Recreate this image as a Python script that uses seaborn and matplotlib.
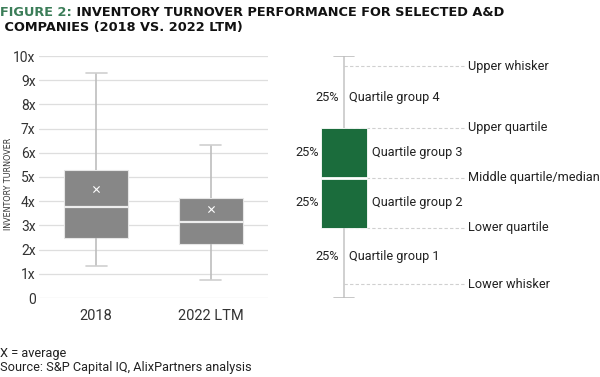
import numpy as np
import pandas as pd
import seaborn as sns
import matplotlib.pyplot as plt

# -------------------------
# Data
# -------------------------
categories = ["2018", "2022 LTM"]
whisker_low = [1.31, 0.74]
lower_quartile = [2.49, 2.25]
median = [3.77, 3.14]
upper_quartile = [5.27, 4.14]
whisker_high = [9.30, 6.33]
average = [4.52, 3.67]

y_ticks = list(range(0, 11))
y_tick_labels = ["0"] + [f"{t}x" for t in range(1, 11)]

# schematic "how to read" box
legend_stats = [0.0, 2.9, 4.97, 7.03, 10.0]
legend_marks = [0.56, 2.9, 4.97, 7.03, 9.57]
legend_mark_labels = ["Lower whisker", "Lower quartile", "Middle quartile/median",
                      "Upper quartile", "Upper whisker"]
legend_groups = ["Quartile group 1", "Quartile group 2",
                 "Quartile group 3", "Quartile group 4"]

GREY_BOX = "#878787"
GREEN = "#1b6c3c"
TITLE_GREEN = "#3b7d58"
TEXT = "#222222"

# five-number rows -> long table for seaborn (whis=(0, 100) makes min/max the whiskers)
rows = []
for i, cat in enumerate(categories):
    for v in [whisker_low[i], lower_quartile[i], median[i], upper_quartile[i], whisker_high[i]]:
        rows.append({"period": cat, "turnover": v})
box_df = pd.DataFrame(rows)
legend_df = pd.DataFrame({"g": ["a"] * 5, "v": legend_stats})

sns.set_theme(style="white")
plt.rcParams["font.family"] = ["Roboto", "DejaVu Sans"]

fig = plt.figure(figsize=(6, 3.77), dpi=100)

# -------------------------
# Left: actual boxes
# -------------------------
ax = fig.add_axes([39 / 600, 79 / 377, 229 / 600, 242 / 377])
sns.boxplot(
    data=box_df, x="period", y="turnover", ax=ax,
    whis=(0, 100), width=0.56, color=GREY_BOX, saturation=1,
    capwidths=0.18,
    boxprops=dict(facecolor=GREY_BOX, edgecolor="#e6e6e6", linewidth=0.8),
    medianprops=dict(color="#eeeeee", linewidth=1.6),
    whiskerprops=dict(color="#bdbdbd", linewidth=1.2),
    capprops=dict(color="#cfcfcf", linewidth=1.2),
    zorder=3,
)
ax.scatter(range(len(average)), average, marker="x", s=20, color="white",
           linewidths=0.8, zorder=5)

ax.set_ylim(0, 10)
ax.set_xlim(-0.5, 1.5)
ax.set_yticks(y_ticks)
ax.set_yticklabels(y_tick_labels)
ax.grid(axis="y", color="#dedede", linewidth=0.9, zorder=0)
ax.set_axisbelow(True)
for s in ax.spines.values():
    s.set_visible(False)
ax.tick_params(axis="y", length=0, pad=2.5, labelsize=10, labelcolor="#333333")
ax.tick_params(axis="x", length=0, pad=8, labelsize=10.5, labelcolor="#333333")
ax.set_xlabel("")
ax.set_ylabel("INVENTORY TURNOVER", fontsize=5.8, family=["DejaVu Sans"],
              color="#333333")
ax.yaxis.set_label_coords(-0.115, 0.47)

# -------------------------
# Right: explanation box
# -------------------------
ax2 = fig.add_axes([300 / 600, 79 / 377, 300 / 600, 242 / 377])
sns.boxplot(
    data=legend_df, x="g", y="v", ax=ax2,
    whis=(0, 100), width=0.523, color=GREEN, saturation=1,
    capwidths=0.227,
    boxprops=dict(facecolor=GREEN, edgecolor="white", linewidth=0.6),
    medianprops=dict(color="white", linewidth=2.0),
    whiskerprops=dict(color="#c8c8c8", linewidth=1.2),
    capprops=dict(color="#bdbdbd", linewidth=1.2),
    zorder=3,
)
ax2.set_ylim(0, 10)
ax2.set_xlim(-0.5, 2.91)
ax2.axis("off")

LAB_SIZE = 9.2
px = 3.41 / 300  # data units per pixel on this axis
for y, lab in zip(legend_marks, legend_mark_labels):
    ax2.plot([0, 166 * px - 0.5], [y, y], ls=(0, (3, 2)), color="#d0d0d0",
             lw=0.8, zorder=1)
    ax2.text(168 * px - 0.5, y, lab, fontsize=LAB_SIZE, color=TEXT,
             va="center", ha="left")

for k, lab in enumerate(legend_groups):
    ymid = (legend_marks[k] + legend_marks[k + 1]) / 2
    inside = k in (1, 2)
    x_pct = (19 if inside else 39) * px - 0.5
    x_lab = (72 if inside else 49) * px - 0.5
    ax2.text(x_pct, ymid, "25%", fontsize=LAB_SIZE, color=TEXT,
             va="center", ha="right")
    ax2.text(x_lab, ymid, lab, fontsize=LAB_SIZE, color=TEXT,
             va="center", ha="left")

# -------------------------
# Title and footer
# -------------------------
TITLE_FONT = ["DejaVu Sans"]
TITLE_SIZE = 9.3
t1 = fig.text(0.0, 1 - 12 / 377, "FIGURE 2:", fontsize=TITLE_SIZE, fontweight="bold",
              family=TITLE_FONT, color=TITLE_GREEN, va="center", ha="left")
ax.annotate(" INVENTORY TURNOVER PERFORMANCE FOR SELECTED A&D", xy=(1, 0.5),
            xycoords=t1, va="center", ha="left", fontsize=TITLE_SIZE,
            fontweight="bold", family=TITLE_FONT, color="#111111")
fig.text(0.0, 1 - 27 / 377, " COMPANIES (2018 VS. 2022 LTM)", fontsize=TITLE_SIZE,
         fontweight="bold", family=TITLE_FONT, color="#111111", va="center", ha="left")

fig.text(0.0, 1 - 353 / 377, "X = average", fontsize=9.2, color=TEXT, va="center")
fig.text(0.0, 1 - 367 / 377, "Source: S&P Capital IQ, AlixPartners analysis",
         fontsize=9.2, color=TEXT, va="center")

plt.savefig("out.png", dpi=100)
plt.close()
